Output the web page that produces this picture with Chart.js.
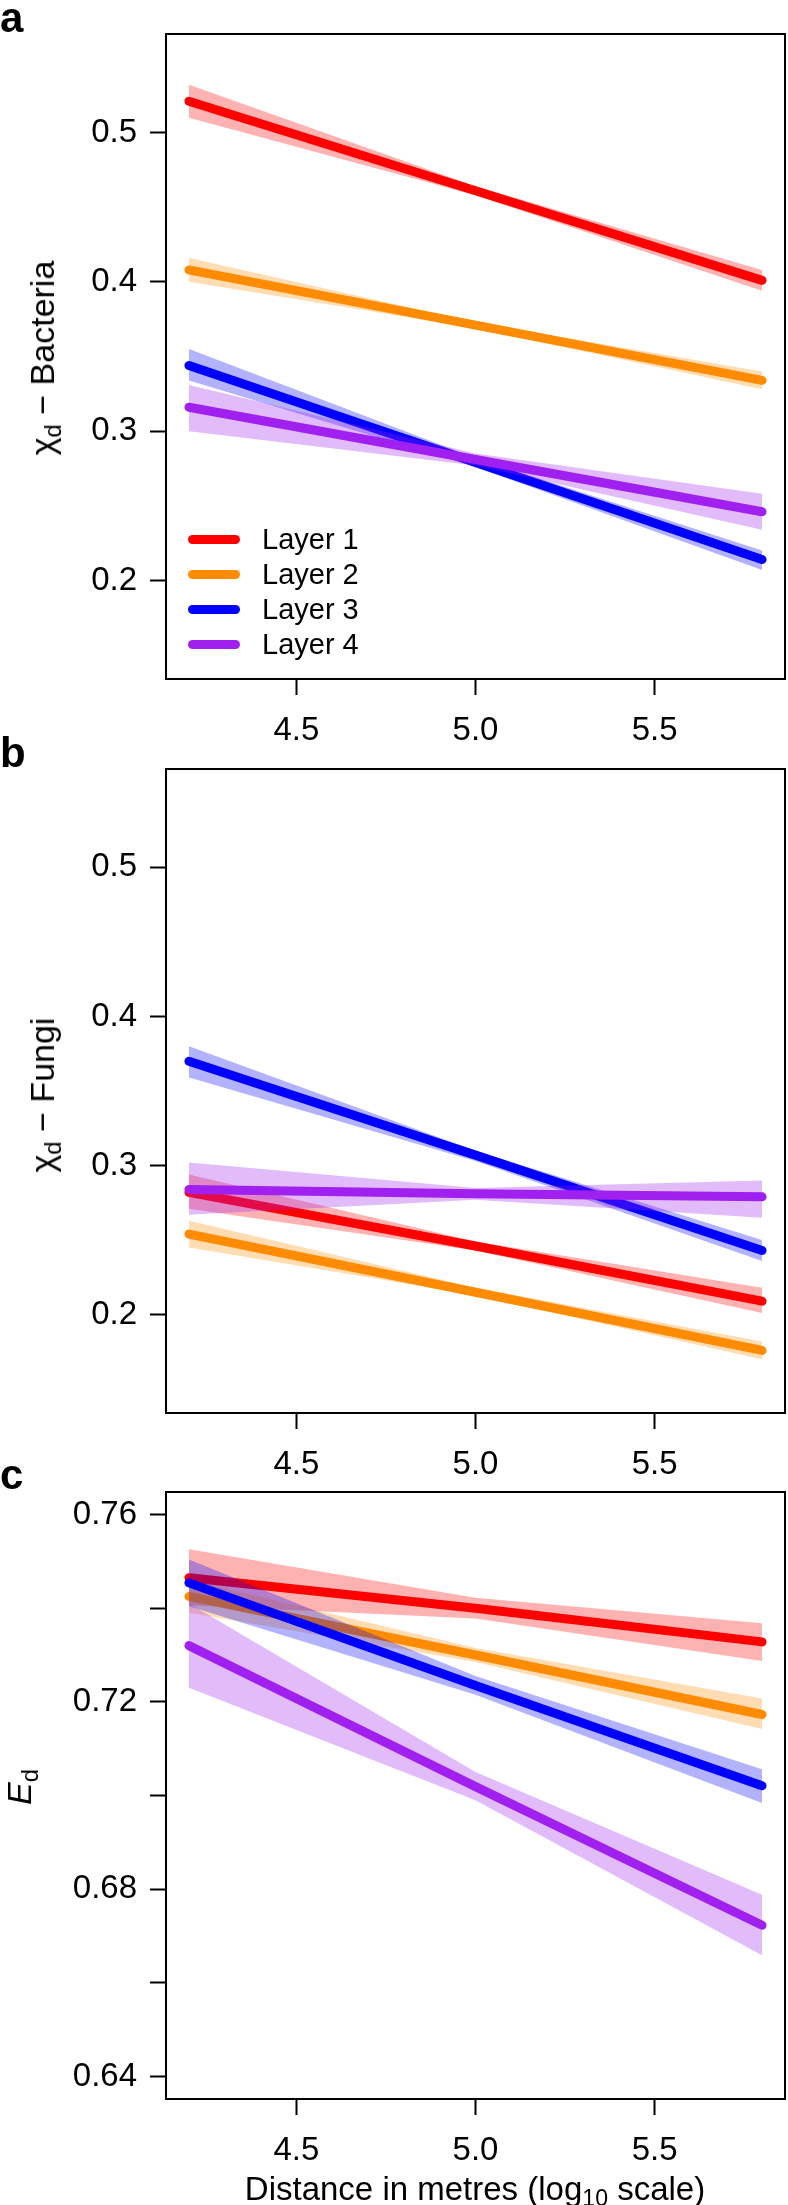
<!DOCTYPE html>
<html>
<head>
<meta charset="utf-8">
<script src="https://cdn.jsdelivr.net/npm/chart.js@4.4.1/dist/chart.umd.min.js"></script>
<style>
  body { margin: 0; background: #fff; font-family: "Liberation Sans", Arial, sans-serif; color: #000; }
  #page { position: relative; width: 788px; height: 2205px; overflow: hidden; }
  .panel { position: absolute; left: 0; width: 788px; }
  .letter { position: absolute; left: 0; font-weight: bold; font-size: 42px; line-height: 42px; }
  .ytitle { position: absolute; white-space: nowrap; font-size: 34px; line-height: 34px;
            transform: translate(-50%, -50%) rotate(-90deg); }
  .xtitle { position: absolute; white-space: nowrap; font-size: 33px; line-height: 33px;
            transform: translate(-50%, -50%); }
  sub { font-size: 0.7em; vertical-align: -0.3em; line-height: 0; }
  .legend-row { position: absolute; left: 188px; height: 34px; display: flex; align-items: center; transform: translateY(-50%); }
  .swatch { width: 52px; height: 9px; border-radius: 5px; margin-right: 22px; }
  .legend-row span { font-size: 29px; line-height: 34px; }
</style>
</head>
<body>
<div id="page">
  <div class="panel" style="top:0;height:760px"><canvas id="chartA"></canvas></div>
  <div class="panel" style="top:715px;height:765px"><canvas id="chartB"></canvas></div>
  <div class="panel" style="top:1440px;height:765px"><canvas id="chartC"></canvas></div>

  <div class="letter" style="top:-3px">a</div>
  <div class="letter" style="top:732px">b</div>
  <div class="letter" style="top:1454px">c</div>

  <div class="ytitle" style="left:42px;top:358px">χ<sub>d</sub> − Bacteria</div>
  <div class="ytitle" style="left:42px;top:1095px">χ<sub>d</sub> − Fungi</div>
  <div class="ytitle" style="left:19px;top:1787px"><i>E</i><sub>d</sub></div>
  <div class="xtitle" style="left:475px;top:2188px">Distance in metres (log<sub>10</sub> scale)</div>

  <div id="legend"></div>
</div>

<script>
const layerNames = ["Layer 1", "Layer 2", "Layer 3", "Layer 4"];
const lineColors = ["#ff0000", "#ff8c00", "#0000ff", "#a020f0"];
const bandColors = ["rgba(255,0,0,0.3)", "rgba(255,140,0,0.3)", "rgba(0,0,255,0.3)", "rgba(160,32,240,0.3)"];

const distance = [4.2, 5.0, 5.8];
const xTicks = [4.5, 5.0, 5.5];
const xLimits = [4.2, 5.8];

const chiTicks = [0.2, 0.3, 0.4, 0.5];
const chiLimits = [0.15, 0.55];
const edTicks = [0.64, 0.66, 0.68, 0.70, 0.72, 0.74, 0.76];
const edTickLabels = ["0.64", "", "0.68", "", "0.72", "", "0.76"];
const edLimits = [0.64, 0.76];

// a: chi_d - Bacteria (one row per layer, values at 4.2 / 5.0 / 5.8)
const bacteriaFit   = [[0.521, 0.461, 0.401], [0.408, 0.371, 0.334], [0.344, 0.279, 0.214], [0.316, 0.281, 0.246]];
const bacteriaUpper = [[0.532, 0.464, 0.408], [0.416, 0.373, 0.340], [0.355, 0.282, 0.220], [0.331, 0.285, 0.258]];
const bacteriaLower = [[0.510, 0.458, 0.394], [0.400, 0.369, 0.328], [0.334, 0.276, 0.207], [0.300, 0.277, 0.234]];

// b: chi_d - Fungi
const fungiFit   = [[0.282, 0.246, 0.209], [0.254, 0.215, 0.176], [0.370, 0.307, 0.243], [0.284, 0.281, 0.279]];
const fungiUpper = [[0.294, 0.249, 0.218], [0.263, 0.218, 0.182], [0.380, 0.310, 0.250], [0.302, 0.285, 0.290]];
const fungiLower = [[0.271, 0.243, 0.201], [0.245, 0.213, 0.170], [0.359, 0.303, 0.236], [0.267, 0.277, 0.265]];

// c: E_d
const edFit   = [[0.7465, 0.7400, 0.7328], [0.7425, 0.7300, 0.7173], [0.7454, 0.7235, 0.7021], [0.7320, 0.7019, 0.6723]];
const edUpper = [[0.7526, 0.7422, 0.7368], [0.7460, 0.7315, 0.7207], [0.7504, 0.7255, 0.7056], [0.7410, 0.7050, 0.6788]];
const edLower = [[0.7406, 0.7378, 0.7287], [0.7390, 0.7285, 0.7142], [0.7404, 0.7215, 0.6984], [0.7230, 0.6990, 0.6659]];

const FONT = { family: "'Liberation Sans', Arial, sans-serif", size: 33 };

// R-style 4% padding around the data range
const padRange = r => [r[0] - (r[1] - r[0]) * 0.04, r[1] + (r[1] - r[0]) * 0.04];

const toPoints = ys => ys.map((y, i) => ({ x: distance[i], y }));

// full box around the plot region, like R's box()
const framePlugin = {
  id: "frame",
  afterDraw(chart) {
    const { ctx, chartArea: a } = chart;
    ctx.save();
    ctx.strokeStyle = "#000";
    ctx.lineWidth = 2;
    ctx.strokeRect(a.left, a.top, a.right - a.left, a.bottom - a.top);
    ctx.restore();
  }
};

function buildDatasets(fit, upper, lower) {
  const sets = [];
  // layer 1 is drawn first, layer 4 last (lower order = drawn on top)
  layerNames.forEach((name, i) => {
    const o = 2 * (layerNames.length - i);
    sets.push({ label: name + " upper", data: toPoints(upper[i]), borderColor: "transparent",
                pointRadius: 0, fill: false, order: o });
    sets.push({ label: name + " lower", data: toPoints(lower[i]), borderColor: "transparent",
                backgroundColor: bandColors[i], pointRadius: 0, fill: "-1", order: o });
    sets.push({ label: name, data: toPoints(fit[i]), borderColor: lineColors[i], borderWidth: 9,
                borderCapStyle: "round", borderJoinStyle: "round", pointRadius: 0, fill: false, order: o - 1 });
  });
  return sets;
}

function makePanel(id, fit, upper, lower, yLimits, yTicks, yLabel, topPad, xAxisHeight) {
  const xr = padRange(xLimits);
  const yr = padRange(yLimits);
  return new Chart(document.getElementById(id), {
    type: "line",
    data: { datasets: buildDatasets(fit, upper, lower) },
    options: {
      responsive: true,
      maintainAspectRatio: false,
      animation: false,
      events: [],
      layout: { padding: { top: topPad, right: 3, left: 0, bottom: 0 } },
      plugins: { legend: { display: false }, tooltip: { enabled: false } },
      elements: { line: { tension: 0 } },
      scales: {
        x: {
          type: "linear", min: xr[0], max: xr[1],
          afterBuildTicks: s => { s.ticks = xTicks.map(v => ({ value: v })); },
          afterFit: s => { s.height = xAxisHeight; },
          ticks: { font: FONT, color: "#000", padding: 16, maxRotation: 0,
                   callback: v => v.toFixed(1) },
          grid: { drawOnChartArea: false, drawTicks: true, tickLength: 16, tickWidth: 2, tickColor: "#000" },
          border: { display: true, color: "#000", width: 2 }
        },
        y: {
          type: "linear", min: yr[0], max: yr[1],
          afterBuildTicks: s => { s.ticks = yTicks.map(v => ({ value: v })); },
          afterFit: s => { s.width = 166; },
          ticks: { font: FONT, color: "#000", padding: 13, callback: (v, i) => yLabel(v, i) },
          grid: { drawOnChartArea: false, drawTicks: true, tickLength: 16, tickWidth: 2, tickColor: "#000" },
          border: { display: true, color: "#000", width: 2 }
        }
      }
    },
    plugins: [framePlugin]
  });
}

makePanel("chartA", bacteriaFit, bacteriaUpper, bacteriaLower, chiLimits, chiTicks, v => v.toFixed(1), 34, 81);
makePanel("chartB", fungiFit, fungiUpper, fungiLower, chiLimits, chiTicks, v => v.toFixed(1), 54, 67);
makePanel("chartC", edFit, edUpper, edLower, edLimits, edTicks, (v, i) => edTickLabels[i], 52, 106);

// legend inside panel a
const legend = document.getElementById("legend");
const legendRowsY = [539, 574, 609, 644];
layerNames.forEach((name, i) => {
  const row = document.createElement("div");
  row.className = "legend-row";
  row.style.top = legendRowsY[i] + "px";
  row.innerHTML = `<div class="swatch" style="background:${lineColors[i]}"></div><span>${name}</span>`;
  legend.appendChild(row);
});
</script>
</body>
</html>
